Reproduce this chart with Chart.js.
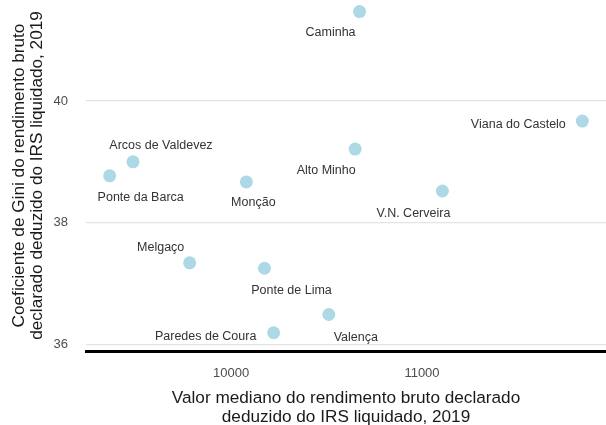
<!DOCTYPE html>
<html>
<head>
<meta charset="utf-8">
<script src="https://cdn.jsdelivr.net/npm/chart.js@4"></script>
<style>
    html, body { margin: 0; padding: 0; background: #fff; }
    #wrap { width: 606px; height: 425px; position: relative; }
</style>
</head>
<body>
<div id="wrap"><canvas id="giniChart"></canvas></div>
<script>
// Alto Minho: rendimento mediano vs coeficiente de Gini (2019)
const MUNICIPIOS = [
    'Caminha', 'Viana do Castelo', 'Alto Minho', 'V.N. Cerveira',
    'Arcos de Valdevez', 'Ponte da Barca', 'Monção', 'Melgaço',
    'Ponte de Lima', 'Valença', 'Paredes de Coura'
];
const RENDIMENTO = [10673, 11840, 10650, 11107, 9486, 9364, 10080, 9783, 10175, 10512, 10223];
const GINI = [41.47, 39.67, 39.21, 38.52, 39.00, 38.77, 38.67, 37.34, 37.25, 36.49, 36.19];

const X_TICKS = [10000, 11000];
const Y_TICKS = [36, 38, 40];

// deslocamento das etiquetas (px) em relação ao ponto
const LABEL_NUDGE = [
    [-29, 21], [-64, 3], [-29, 22], [-29, 23],
    [28, -16], [31, 22], [7, 21], [-29, -15],
    [27, 22], [27, 23], [-68, 4]
];

const FONT = '"Liberation Sans", Arial, sans-serif';

const pointLabels = {
    id: 'pointLabels',
    afterDatasetsDraw(chart) {
        const ctx = chart.ctx;
        const meta = chart.getDatasetMeta(0);
        ctx.save();
        ctx.font = `12.5px ${FONT}`;
        ctx.fillStyle = '#333';
        ctx.textAlign = 'center';
        ctx.textBaseline = 'middle';
        meta.data.forEach((pt, i) => {
            const [dx, dy] = LABEL_NUDGE[i];
            ctx.fillText(MUNICIPIOS[i], pt.x + dx, pt.y + dy);
        });
        ctx.restore();
    }
};

const points = RENDIMENTO.map((x, i) => ({ x: x, y: GINI[i] }));

new Chart(document.getElementById('giniChart'), {
    type: 'scatter',
    data: {
        datasets: [{
            data: points,
            backgroundColor: '#add8e6',
            borderWidth: 0,
            pointRadius: 6.5,
            pointHoverRadius: 6.5
        }]
    },
    options: {
        responsive: true,
        maintainAspectRatio: false,
        animation: false,
        layout: { padding: 0, autoPadding: false },
        plugins: {
            legend: { display: false },
            tooltip: { enabled: false }
        },
        scales: {
            x: {
                type: 'linear',
                min: 9240,
                max: 11964,
                afterBuildTicks: s => { s.ticks = X_TICKS.map(v => ({ value: v })); },
                afterFit: s => { s.height = 74; s.paddingLeft = 0; s.paddingRight = 0; },
                grid: { display: false, drawTicks: false },
                border: { display: true, color: '#000', width: 3 },
                ticks: {
                    color: '#4d4d4d',
                    font: { family: FONT, size: 13 },
                    padding: 14.5,
                    maxRotation: 0,
                    autoSkip: false,
                    callback: v => String(v)
                },
                title: {
                    display: true,
                    text: ['Valor mediano do rendimento bruto declarado', 'deduzido do IRS liquidado, 2019'],
                    color: '#1a1a1a',
                    font: { family: FONT, size: 17.2, lineHeight: '18.6px' },
                    padding: { top: 0, bottom: -1.5 }
                }
            },
            y: {
                min: 35.89,
                max: 41.66,
                afterBuildTicks: s => { s.ticks = Y_TICKS.map(v => ({ value: v })); },
                afterFit: s => { s.width = 86; s.paddingTop = 0; s.paddingBottom = 0; },
                grid: { color: '#e4e4e4', lineWidth: 1.2, drawTicks: false },
                border: { display: false },
                ticks: {
                    color: '#4d4d4d',
                    font: { family: FONT, size: 13 },
                    padding: 18,
                    callback: v => String(v)
                },
                title: {
                    display: true,
                    text: ['Coeficiente de Gini do rendimento bruto', 'declarado deduzido do IRS liquidado, 2019'],
                    color: '#1a1a1a',
                    font: { family: FONT, size: 17.2, lineHeight: '18.6px' },
                    padding: { top: 9.5, bottom: 0 }
                }
            }
        }
    },
    plugins: [pointLabels]
});
</script>
</body>
</html>
